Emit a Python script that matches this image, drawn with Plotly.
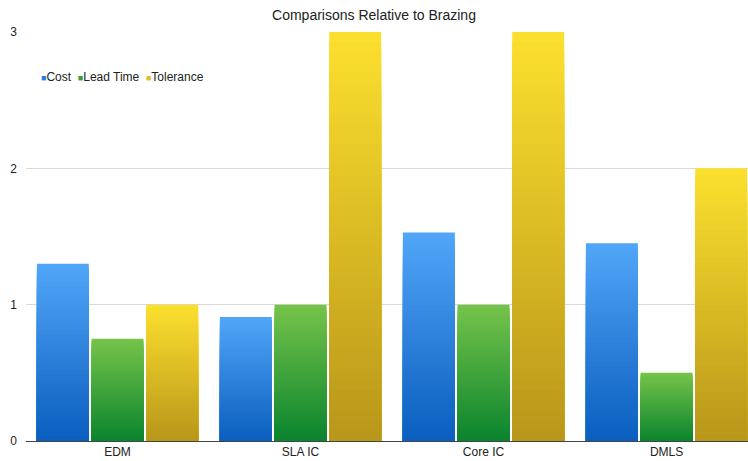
import plotly.graph_objects as go

# Chart data
categories = ["EDM", "SLA IC", "Core IC", "DMLS"]
series_names = ["Cost", "Lead Time", "Tolerance"]
cost = [1.3, 0.91, 1.53, 1.45]
lead_time = [0.75, 1.0, 1.0, 0.5]
tolerance = [1.0, 3.0, 3.0, 2.0]
y_ticks = [0, 1, 2, 3]

series_values = [cost, lead_time, tolerance]
# (bottom colour, top colour) of each series' vertical gradient
gradients = [
    ((10, 94, 190), (82, 166, 248)),
    ((10, 132, 46), (118, 196, 74)),
    ((184, 150, 26), (252, 224, 46)),
]
legend_colors = ["#2f7fdc", "#3a9e3a", "#e0c02a"]

N_STEPS = 40


def mix(c0, c1, t):
    return "rgb({},{},{})".format(*[round(a + (b - a) * t) for a, b in zip(c0, c1)])


fig = go.Figure()
for name, vals, (lo, hi) in zip(series_names, series_values, gradients):
    # overlapping bars, tallest (lightest) first, so each bar shades dark->light upward
    for k in range(N_STEPS - 1, -1, -1):
        t = (k + 0.5) / N_STEPS
        fig.add_trace(go.Bar(
            x=categories,
            y=[v * (k + 1) / N_STEPS for v in vals],
            offsetgroup=name,
            name=name,
            showlegend=False,
            marker=dict(color=mix(lo, hi, t), line=dict(width=0)),
            hoverinfo="skip",
        ))

legend_text = "  ".join(
    f'<span style="color:{c};font-size:9px">■</span>{n}'
    for n, c in zip(series_names, legend_colors)
)
fig.add_annotation(text=legend_text, xref="paper", yref="paper", x=0.018, y=0.89,
                   xanchor="left", yanchor="middle", showarrow=False,
                   font=dict(size=12, color="#222222"))

fig.update_layout(
    width=748, height=461,
    margin=dict(l=26, r=0, t=32, b=20),
    paper_bgcolor="white", plot_bgcolor="white",
    barmode="group", bargap=0.104, bargroupgap=0.05,
    font=dict(family="Liberation Sans, Arial, sans-serif", size=12, color="#222222"),
    title=dict(text="Comparisons Relative to Brazing", x=0.5, xanchor="center",
               y=0.968, yanchor="middle", font=dict(size=14, color="#222222")),
    showlegend=False,
)
fig.update_xaxes(range=[-0.5, 3.445], showgrid=False, showline=True,
                 linecolor="#444444", linewidth=1, ticks="", tickfont=dict(size=12))
fig.update_yaxes(range=[0, 3], tickvals=y_ticks, showgrid=True, gridcolor="#d9d9d9",
                 gridwidth=1, zeroline=False, showline=False, ticks="",
                 ticklabelstandoff=8, tickfont=dict(size=12))

fig.write_html("out.html")
